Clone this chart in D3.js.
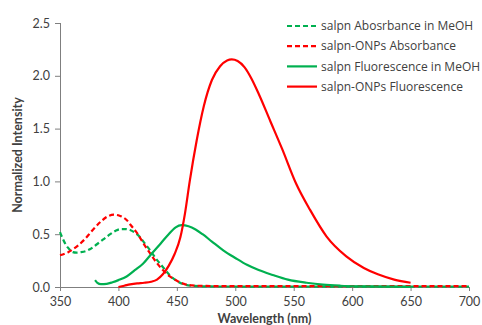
<!DOCTYPE html>
<html>
<head>
<meta charset="utf-8">
<script src="https://cdn.jsdelivr.net/npm/d3@7"></script>
<style>
  body { margin: 0; background: #fff; }
  text { font-family: Lato, "Open Sans", sans-serif; fill: #404040; }
</style>
</head>
<body>
<script>
var W = 482, H = 325;
var margin = {left: 60, right: 13, top: 23, bottom: 38};

// series data, [wavelength nm, normalized intensity]
var salpnAbs = [[350,0.52],[354,0.42],[357,0.37],[361,0.33],[364,0.325],[368,0.33],[372,0.34],[376,0.36],[381,0.40],[387,0.45],[393,0.50],[398,0.535],[402,0.548],[406,0.548],[410,0.54],[414,0.515],[418,0.478],[422,0.42],[427,0.35],[432,0.27],[438,0.19],[444,0.11],[451,0.05],[457,0.022],[465,0.01],[480,0.005],[550,0.004],[700,0.004]];
var onpAbs = [[350,0.30],[357,0.33],[364,0.38],[371,0.45],[378,0.54],[385,0.62],[391,0.67],[396,0.685],[401,0.675],[407,0.635],[411,0.58],[416,0.51],[421,0.42],[427,0.32],[432,0.24],[438,0.16],[444,0.10],[450,0.06],[456,0.03],[463,0.015],[475,0.01],[500,0.008],[700,0.008]];
var salpnFl = [[380,0.066],[382,0.04],[385,0.027],[390,0.03],[395,0.045],[400,0.065],[407,0.10],[414,0.16],[421,0.22],[428,0.31],[436,0.41],[443,0.50],[449,0.565],[454,0.585],[460,0.575],[466,0.545],[472,0.50],[480,0.43],[490,0.345],[500,0.275],[510,0.21],[520,0.16],[532,0.114],[545,0.07],[561,0.04],[575,0.022],[590,0.012],[610,0.006],[630,0.003],[650,0.002]];
var onpFl = [[400,0.0],[405,0.012],[410,0.025],[416,0.035],[422,0.04],[428,0.05],[433,0.07],[438,0.12],[443,0.2],[448,0.31],[453,0.47],[457,0.70],[461,1.0],[467,1.39],[473,1.71],[480,1.96],[487,2.09],[493,2.145],[497,2.155],[502,2.14],[508,2.08],[514,1.97],[520,1.83],[530,1.57],[540,1.31],[552,0.98],[564,0.73],[578,0.48],[595,0.29],[610,0.18],[622,0.12],[636,0.07],[650,0.04]];

var seriesNames = ["salpn Abosrbance in MeOH", "salpn-ONPs Absorbance", "salpn Fluorescence in MeOH", "salpn-ONPs Fluorescence"];
var seriesData = [salpnAbs, onpAbs, salpnFl, onpFl];
var seriesColor = ["#00b050", "#ff0000", "#00b050", "#ff0000"];
var seriesDash = ["5,3", "5,3", null, null];

var xTicks = [350, 400, 450, 500, 550, 600, 650, 700];
var yTicks = [0, 0.5, 1.0, 1.5, 2.0, 2.5];

var svg = d3.select('body').append('svg')
  .attr('width', W)
  .attr('height', H);

var x = d3.scaleLinear().domain([350, 700]).range([margin.left, W - margin.right]);
var y = d3.scaleLinear().domain([0, 2.5]).range([H - margin.bottom, margin.top]);

// axes
var yAxis = svg.append('g')
  .attr('transform', 'translate(' + margin.left + ',0)')
  .call(d3.axisLeft(y).tickValues(yTicks).tickSize(5).tickPadding(5).tickFormat(d3.format('.1f')));
var xAxis = svg.append('g')
  .attr('transform', 'translate(0,' + (H - margin.bottom) + ')')
  .call(d3.axisBottom(x).tickValues(xTicks).tickSize(4).tickPadding(6).tickFormat(d3.format('d')));

svg.selectAll('.domain, .tick line').attr('stroke', '#7f7f7f').attr('stroke-width', 1);
svg.selectAll('.tick text').style('font-size', '12.5px').attr('fill', '#404040');
yAxis.select('.domain').attr('d', 'M0.5,' + y(2.5) + 'V' + y(0));

// lines
var line = d3.line()
  .x(function(d) { return x(d[0]); })
  .y(function(d) { return y(d[1]); })
  .curve(d3.curveMonotoneX);

seriesData.forEach(function(s, i) {
  svg.append('path')
    .datum(s)
    .attr('fill', 'none')
    .attr('stroke', seriesColor[i])
    .attr('stroke-width', 2.2)
    .attr('stroke-dasharray', seriesDash[i])
    .attr('d', line);
});

// axis titles
svg.append('text')
  .attr('x', (x(350) + x(700)) / 2)
  .attr('y', 323)
  .attr('text-anchor', 'middle')
  .style('font-size', '12.5px')
  .style('font-weight', 'bold')
  .text('Wavelength (nm)');

svg.append('text')
  .attr('transform', 'translate(22,155) rotate(-90)')
  .attr('text-anchor', 'middle')
  .style('font-size', '12.5px')
  .style('font-weight', 'bold')
  .text('Normalized Intensity');

// legend
var legend = svg.append('g').attr('transform', 'translate(287,26)');
seriesNames.forEach(function(name, i) {
  var g = legend.append('g').attr('transform', 'translate(0,' + (i * 20.2) + ')');
  g.append('line')
    .attr('x1', 0).attr('x2', 30)
    .attr('stroke', seriesColor[i])
    .attr('stroke-width', 2.2)
    .attr('stroke-dasharray', seriesDash[i]);
  g.append('text')
    .attr('x', 34)
    .attr('dy', '0.35em')
    .style('font-family', '"Open Sans", sans-serif')
    .style('font-size', '12px')
    .text(name);
});
</script>
</body>
</html>
